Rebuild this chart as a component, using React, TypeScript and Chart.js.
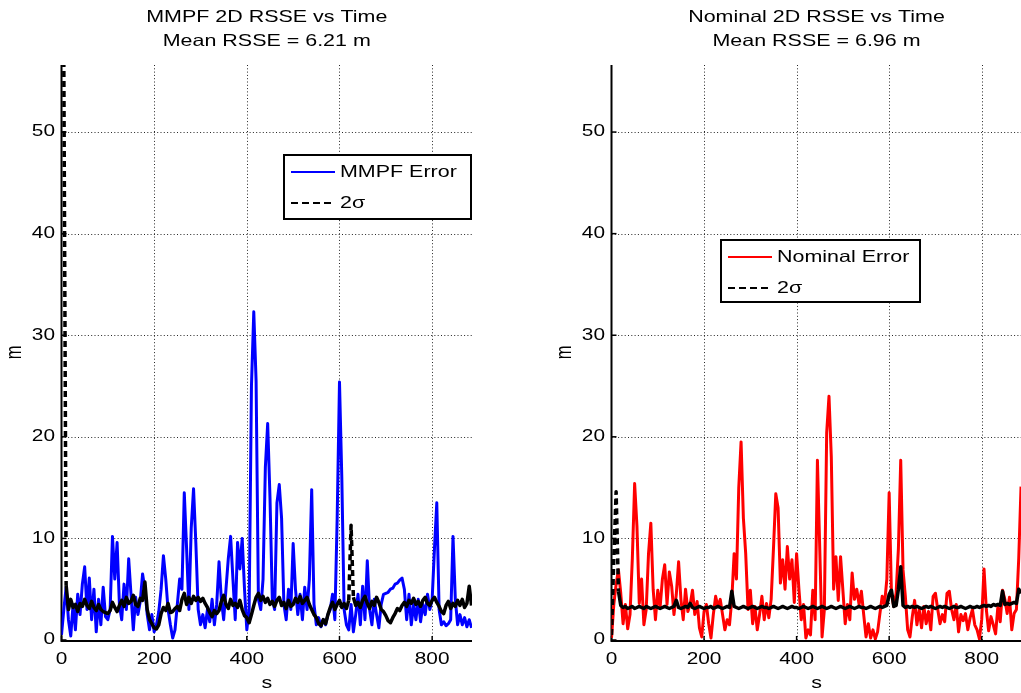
import React, { useEffect, useRef } from 'react';
import { Chart, registerables } from 'chart.js';

Chart.register(...registerables);

// Sample times (s)
const sampleTimes = [
  0, 5, 10, 15, 20, 25, 30, 35, 40, 45,
  50, 55, 60, 65, 70, 75, 80, 85, 90, 95,
  100, 105, 110, 115, 120, 125, 130, 135, 140, 145,
  150, 155, 160, 165, 170, 175, 180, 185, 190, 195,
  200, 205, 210, 215, 220, 225, 230, 235, 240, 245,
  250, 255, 260, 265, 270, 275, 280, 285, 290, 295,
  300, 305, 310, 315, 320, 325, 330, 335, 340, 345,
  350, 355, 360, 365, 370, 375, 380, 385, 390, 395,
  400, 405, 410, 415, 420, 425, 430, 435, 440, 445,
  450, 455, 460, 465, 470, 475, 480, 485, 490, 495,
  500, 505, 510, 515, 520, 525, 530, 535, 540, 545,
  550, 555, 560, 565, 570, 575, 580, 585, 590, 595,
  600, 605, 610, 615, 620, 625, 630, 635, 640, 645,
  650, 655, 660, 665, 670, 675, 680, 685, 690, 695,
  700, 705, 710, 715, 720, 725, 730, 735, 740, 745,
  750, 755, 760, 765, 770, 775, 780, 785, 790, 795,
  800, 805, 810, 815, 820, 825, 830, 835, 840, 845,
  850, 855, 860, 865, 870, 875, 880, 885,
];

// MMPF 2D RSSE (m)
const mmpfError = [
  0.5, 3.0, 5.2, 2.0, 0.4, 3.5, 1.0, 4.5, 2.5, 5.5,
  7.2, 3.0, 6.1, 2.0, 5.0, 0.8, 4.0, 1.5, 5.2, 2.3,
  2.0, 3.0, 10.2, 6.0, 9.6, 3.5, 2.0, 5.5, 3.0, 8.0,
  4.5, 1.0, 4.2, 2.5, 3.8, 6.5, 5.0, 2.5, 1.0, 2.5,
  0.8, 1.5, 2.8, 5.0, 8.3, 6.0, 3.0, 1.5, 0.2, 1.0,
  3.5, 6.0, 5.0, 14.5, 9.0, 3.0, 11.0, 14.9, 9.5, 3.0,
  1.5, 2.5, 1.2, 3.0, 1.8, 4.0, 1.5, 3.5, 7.7, 4.0,
  2.0, 5.0, 8.0, 10.2, 6.0, 2.0, 9.6, 7.0, 10.0, 5.0,
  1.0, 3.0, 25.0, 32.3, 25.5, 4.0, 3.0, 6.0, 17.0, 21.3,
  14.0, 4.0, 3.0, 13.5, 15.3, 12.0, 3.5, 2.0, 5.0, 3.0,
  9.5, 5.0, 2.5, 4.5, 2.0, 5.2, 3.0, 6.0, 14.8, 3.5,
  1.5, 2.2, 1.3, 2.0, 1.5, 2.5, 3.0, 4.5, 2.0, 12.0,
  25.4, 16.0, 3.0, 1.5, 1.0, 3.5, 0.8, 2.5, 4.5, 1.5,
  5.3, 2.0, 7.8, 3.0, 1.5, 4.0, 2.5, 1.2, 3.5, 4.5,
  4.6, 4.7, 5.0, 5.1, 5.5, 5.6, 5.9, 6.1, 5.0, 2.0,
  4.5, 1.5, 3.5, 2.0, 4.0, 1.8, 3.5, 2.5, 4.5, 3.0,
  4.0, 9.0, 13.5, 3.0, 1.5, 1.8, 1.4, 1.6, 2.0, 10.2,
  4.0, 1.5, 2.5, 1.5, 2.2, 1.3, 2.0, 1.2,
];

// MMPF 2-sigma bound (m)
const mmpfTwoSigma = [
  60, 57, 5.4, 3.0, 4.0, 3.2, 3.5, 2.8, 3.6, 3.3,
  4.0, 3.4, 3.1, 3.8, 3.2, 2.9, 3.5, 3.0, 2.8, 2.7,
  2.6, 2.9, 3.7, 3.2, 2.8, 3.4, 3.9, 3.3, 4.2, 3.6,
  3.8, 4.4, 3.5, 3.3, 4.1, 3.9, 5.7, 3.0, 2.0, 1.6,
  1.2, 1.1, 1.5, 2.6, 3.2, 2.9, 3.6, 2.7, 2.8, 3.1,
  3.3, 2.9, 4.0, 4.6, 3.5, 4.2, 3.6, 4.3, 3.9, 4.2,
  3.8, 4.1, 3.6, 3.2, 2.7, 2.3, 2.9, 2.6, 2.9, 3.8,
  4.4, 3.5, 3.1, 4.0, 3.4, 3.6, 3.2, 3.9, 3.0, 2.4,
  2.2, 1.7, 2.5, 3.4, 4.2, 4.6, 3.9, 4.3, 3.7, 4.1,
  3.5, 3.8, 3.3, 3.9, 4.2, 3.4, 3.7, 3.1, 3.9, 3.3,
  3.5, 4.1, 3.7, 4.3, 3.6, 3.9, 4.2, 3.5, 3.0, 2.5,
  2.2, 1.6, 1.4, 2.0, 1.6, 2.5, 3.2, 3.7, 3.0, 3.5,
  3.9, 3.2, 3.6, 3.1, 3.9, 11.3, 4.2, 3.4, 3.7, 3.2,
  3.9, 4.3, 3.6, 3.1, 3.8, 3.4, 4.2, 3.7, 3.0, 2.8,
  2.4, 1.9, 1.7, 2.2, 2.6, 3.1, 2.9, 3.4, 3.7, 3.3,
  3.9, 3.6, 4.1, 3.5, 3.8, 3.3, 3.9, 4.2, 3.6, 3.4,
  3.9, 4.2, 3.7, 3.3, 2.8, 2.6, 3.4, 3.8, 3.1, 3.6,
  3.3, 3.9, 3.4, 4.0, 3.2, 3.6, 5.3, 3.4,
];

// Nominal 2D RSSE (m)
const nominalError = [
  0.2, 3.5, 5.5, 6.9, 4.6, 1.6, 3.5, 1.1, 2.5, 8.0,
  15.4, 11.2, 3.6, 6.0, 1.5, 3.0, 8.5, 11.5, 5.0, 2.0,
  4.9, 3.2, 6.0, 7.4, 3.5, 6.7, 5.3, 2.5, 4.5, 7.7,
  4.0, 2.0, 5.0, 2.8, 3.5, 4.9, 2.5, 3.8, 1.2, 0.3,
  2.8, 3.5, 1.6, 0.2, 2.5, 4.3, 3.3, 4.0, 2.5, 1.0,
  2.0, 1.5, 4.0, 8.5, 6.0, 15.0, 19.5, 12.0, 8.5, 3.0,
  4.9, 1.6, 3.3, 1.0, 2.5, 4.3, 2.0, 3.6, 2.2, 4.0,
  9.0, 14.4, 13.0, 5.6, 7.9, 5.0, 9.2, 6.0, 7.9, 3.7,
  8.5, 5.0, 2.0, 3.5, 0.2, 1.0, 0.5, 4.9, 2.0, 17.7,
  9.0, 0.3, 3.0, 20.4, 24.0, 18.0, 5.0, 8.2, 3.9, 8.2,
  4.9, 1.6, 3.5, 2.0, 6.6, 4.0, 5.0, 3.5, 4.8, 2.5,
  0.3, 1.6, 0.2, 1.0, 0.1, 0.8, 2.6, 4.3, 3.5, 6.0,
  14.5, 4.5, 3.3, 4.6, 9.0, 17.7, 6.9, 4.3, 1.0, 0.3,
  2.3, 3.9, 1.5, 3.0, 1.2, 3.3, 1.6, 2.8, 1.0, 4.3,
  4.6, 3.0, 1.6, 2.5, 1.8, 4.6, 4.8, 3.0, 2.0, 3.5,
  0.8, 2.5, 1.9, 2.6, 1.0, 2.2, 3.0, 1.5, 1.0, 0.1,
  2.0, 7.0, 3.0, 0.9, 2.3, 1.5, 0.6, 3.3, 1.8, 4.9,
  4.0, 2.6, 4.2, 1.0, 2.6, 3.0, 8.0, 15.1,
];

// Nominal 2-sigma bound (m)
const nominalTwoSigma = [
  0.5, 8.0, 14.6, 4.8, 3.4, 3.2, 3.3, 3.1, 3.2, 3.3,
  3.1, 3.2, 3.3, 3.2, 3.1, 3.3, 3.2, 3.1, 3.2, 3.3,
  3.2, 3.1, 3.2, 3.3, 3.2, 3.1, 3.2, 3.3, 3.9, 3.2,
  3.1, 3.2, 3.3, 3.2, 3.6, 3.2, 3.1, 3.2, 3.3, 3.2,
  3.1, 3.2, 3.2, 3.3, 3.1, 3.2, 3.3, 3.2, 3.1, 3.2,
  3.3, 3.2, 4.8, 3.3, 3.2, 3.1, 3.2, 3.3, 3.2, 3.1,
  3.2, 3.3, 3.2, 3.1, 3.2, 3.3, 3.2, 3.2, 3.1, 3.2,
  3.3, 3.2, 3.1, 3.2, 3.3, 3.2, 3.1, 3.2, 3.3, 3.2,
  3.2, 3.1, 3.2, 3.3, 3.2, 3.1, 3.2, 3.3, 3.2, 3.1,
  3.2, 3.3, 3.2, 3.1, 3.2, 3.3, 3.2, 3.1, 3.2, 3.3,
  3.2, 3.1, 3.2, 3.3, 3.2, 3.1, 3.2, 3.3, 3.2, 3.2,
  3.1, 3.2, 3.3, 3.2, 3.1, 3.2, 3.3, 3.2, 3.3, 3.4,
  4.5, 4.9, 3.3, 3.4, 5.0, 7.2, 3.4, 3.2, 3.3, 3.2,
  3.3, 3.2, 3.3, 3.2, 3.1, 3.2, 3.3, 3.2, 3.3, 3.2,
  3.1, 3.2, 3.3, 3.2, 3.3, 3.2, 3.1, 3.2, 3.3, 3.2,
  3.2, 3.3, 3.2, 3.1, 3.2, 3.3, 3.2, 3.2, 3.3, 3.2,
  3.3, 3.4, 3.3, 3.4, 3.3, 3.5, 3.4, 3.5, 3.4, 4.8,
  3.5, 3.6, 3.5, 3.6, 3.7, 3.6, 5.0, 4.6,
];

const xTickValues = [0, 200, 400, 600, 800];
const yTickValues = [0, 10, 20, 30, 40, 50];
const X_MAX = 886;
const Y_MAX = 56.6;

const FONT = '"Liberation Sans", Arial, Helvetica, sans-serif';
const TEXT_STRETCH = 1.3;
const SIGMA_DASH = [6, 4];

type LegendEntry = { label: string; color: string; dash: number[] };
type PanelSpec = {
  titleLines: string[];
  errorLabel: string;
  errorColor: string;
  errorValues: number[];
  sigmaValues: number[];
  canvasLeft: number;
  canvasWidth: number;
  padLeft: number;
  padRight: number;
  legendBox: { left: number; top: number; width: number; height: number };
};

function drawText(
  ctx: CanvasRenderingContext2D,
  text: string,
  x: number,
  y: number,
  size: number,
  align: CanvasTextAlign = 'center',
  rotate = 0,
) {
  ctx.save();
  ctx.translate(x, y);
  if (rotate) {
    ctx.rotate(rotate);
    ctx.scale(1, TEXT_STRETCH);
  } else {
    ctx.scale(TEXT_STRETCH, 1);
  }
  ctx.font = `${size}px ${FONT}`;
  ctx.fillStyle = '#000';
  ctx.textAlign = align;
  ctx.textBaseline = 'middle';
  ctx.fillText(text, 0, 0);
  ctx.restore();
}

function makeFigurePlugin(spec: PanelSpec, legend: LegendEntry[]) {
  return {
    id: 'figureAxes',
    beforeDatasetsDraw(chart: any) {
      const { ctx, chartArea: a, scales } = chart;
      const xs = scales.x;
      const ys = scales.y;
      ctx.save();

      // dotted grid
      ctx.strokeStyle = 'rgba(0,0,0,0.85)';
      ctx.lineWidth = 1;
      ctx.setLineDash([1, 2.3]);
      for (const v of xTickValues) {
        if (v === 0) continue;
        const px = Math.round(xs.getPixelForValue(v)) + 0.5;
        ctx.beginPath();
        ctx.moveTo(px, a.top);
        ctx.lineTo(px, a.bottom);
        ctx.stroke();
      }
      for (const v of yTickValues) {
        if (v === 0) continue;
        const py = Math.round(ys.getPixelForValue(v)) + 0.5;
        ctx.beginPath();
        ctx.moveTo(a.left, py);
        ctx.lineTo(a.right, py);
        ctx.stroke();
      }
      ctx.setLineDash([]);

      // axis lines (left and bottom)
      ctx.strokeStyle = '#000';
      ctx.lineWidth = 2;
      ctx.beginPath();
      ctx.moveTo(a.left, a.top);
      ctx.lineTo(a.left, a.bottom + 1);
      ctx.lineTo(a.right, a.bottom + 1);
      ctx.stroke();

      // inward tick marks
      ctx.lineWidth = 1.5;
      for (const v of xTickValues) {
        const px = xs.getPixelForValue(v);
        ctx.beginPath();
        ctx.moveTo(px, a.bottom + 1);
        ctx.lineTo(px, a.bottom - 4);
        ctx.stroke();
      }
      for (const v of yTickValues) {
        const py = ys.getPixelForValue(v);
        ctx.beginPath();
        ctx.moveTo(a.left, py);
        ctx.lineTo(a.left + 5, py);
        ctx.stroke();
      }

      // tick labels
      for (const v of xTickValues) {
        drawText(ctx, String(v), xs.getPixelForValue(v), a.bottom + 20, 16);
      }
      for (const v of yTickValues) {
        drawText(ctx, String(v), a.left - 6.5, ys.getPixelForValue(v), 16, 'right');
      }

      // axis titles
      const cx = (a.left + a.right) / 2;
      drawText(ctx, 's', cx, 683, 16.5);
      drawText(ctx, 'm', a.left - 46, (a.top + a.bottom) / 2, 16.5, 'center', -Math.PI / 2);

      // plot title
      drawText(ctx, spec.titleLines[0], cx, 17, 16.5);
      drawText(ctx, spec.titleLines[1], cx, 41, 16.5);

      ctx.restore();
    },
    afterDatasetsDraw(chart: any) {
      const { ctx } = chart;
      const b = spec.legendBox;
      ctx.save();
      ctx.fillStyle = '#fff';
      ctx.fillRect(b.left, b.top, b.width, b.height);
      ctx.strokeStyle = '#000';
      ctx.lineWidth = 2;
      ctx.strokeRect(b.left, b.top, b.width, b.height);
      const rows = [b.top + 17, b.top + 48];
      legend.forEach((entry, i) => {
        const y = rows[i];
        ctx.strokeStyle = entry.color;
        ctx.lineWidth = 2;
        ctx.setLineDash(entry.dash);
        ctx.beginPath();
        ctx.moveTo(b.left + 7, y);
        ctx.lineTo(b.left + 51, y);
        ctx.stroke();
        ctx.setLineDash([]);
        drawText(ctx, entry.label, b.left + 56, y, 16.5, 'left');
      });
      ctx.restore();
    },
  };
}

// Dashes only show up on the long, near-vertical runs of the 2σ trace;
// elsewhere the dense trace reads as a solid band.
function steepDash(c: any) {
  const dx = Math.abs(c.p1.x - c.p0.x);
  const dy = Math.abs(c.p1.y - c.p0.y);
  return dy > 45 && dy > 3 * dx ? SIGMA_DASH : [];
}

function ErrorPanel({ spec }: { spec: PanelSpec }) {
  const ref = useRef<HTMLCanvasElement | null>(null);

  useEffect(() => {
    if (!ref.current) return;
    const legend: LegendEntry[] = [
      { label: spec.errorLabel, color: spec.errorColor, dash: [] },
      { label: '2σ', color: '#000', dash: [7, 4] },
    ];
    const chart = new Chart(ref.current, {
      type: 'line',
      data: {
        datasets: [
          {
            label: '2σ',
            data: sampleTimes.map((t, i) => ({ x: t, y: spec.sigmaValues[i] })),
            borderColor: '#000',
            borderWidth: 3.5,
            borderJoinStyle: 'round',
            borderDash: [],
            pointRadius: 0,
            tension: 0,
            order: 0,
            segment: { borderDash: steepDash },
          },
          {
            label: spec.errorLabel,
            data: sampleTimes.map((t, i) => ({ x: t, y: spec.errorValues[i] })),
            borderColor: spec.errorColor,
            borderWidth: 3,
            borderJoinStyle: 'round',
            pointRadius: 0,
            tension: 0,
            order: 1,
          },
        ],
      },
      options: {
        responsive: false,
        animation: false,
        events: [],
        layout: {
          padding: { left: spec.padLeft, right: spec.padRight, top: 65, bottom: 53 },
        },
        scales: {
          x: {
            type: 'linear',
            min: 0,
            max: X_MAX,
            ticks: { display: false },
            grid: { display: false },
            border: { display: false },
            afterFit: (s: any) => {
              s.height = 0;
            },
          },
          y: {
            type: 'linear',
            min: 0,
            max: Y_MAX,
            ticks: { display: false },
            grid: { display: false },
            border: { display: false },
            afterFit: (s: any) => {
              s.width = 0;
            },
          },
        },
        plugins: {
          legend: { display: false },
          tooltip: { enabled: false },
          title: { display: false },
        },
      },
      plugins: [makeFigurePlugin(spec, legend)],
    } as any);
    return () => chart.destroy();
  }, [spec]);

  return (
    <canvas
      ref={ref}
      width={spec.canvasWidth}
      height={693}
      style={{
        position: 'absolute',
        left: spec.canvasLeft,
        top: 0,
        width: spec.canvasWidth,
        height: 693,
      }}
    />
  );
}

const mmpfPanel: PanelSpec = {
  titleLines: ['MMPF 2D RSSE vs Time', 'Mean RSSE = 6.21 m'],
  errorLabel: 'MMPF Error',
  errorColor: '#0000ff',
  errorValues: mmpfError,
  sigmaValues: mmpfTwoSigma,
  canvasLeft: 0,
  canvasWidth: 510,
  padLeft: 61.5,
  padRight: 38,
  legendBox: { left: 284, top: 155, width: 187, height: 64 },
};

const nominalPanel: PanelSpec = {
  titleLines: ['Nominal 2D RSSE vs Time', 'Mean RSSE = 6.96 m'],
  errorLabel: 'Nominal Error',
  errorColor: '#ff0000',
  errorValues: nominalError,
  sigmaValues: nominalTwoSigma,
  canvasLeft: 510,
  canvasWidth: 512,
  padLeft: 101.5,
  padRight: 0.5,
  legendBox: { left: 211, top: 240, width: 199, height: 62 },
};

export default function App() {
  return (
    <div
      style={{
        position: 'fixed',
        left: 0,
        top: 0,
        width: 1021,
        height: 693,
        overflow: 'hidden',
        background: '#fff',
      }}
    >
      <ErrorPanel spec={mmpfPanel} />
      <ErrorPanel spec={nominalPanel} />
    </div>
  );
}
